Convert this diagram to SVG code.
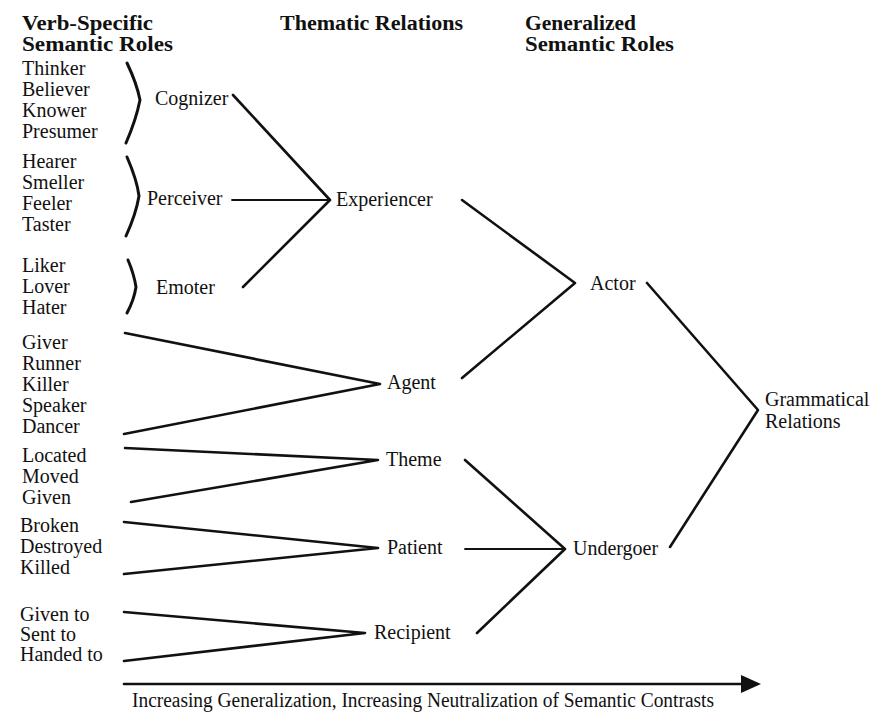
<svg xmlns="http://www.w3.org/2000/svg" width="875" height="713" viewBox="0 0 875 713">
<style>
text{font-family:"Liberation Serif","Times New Roman",serif;font-size:20px;fill:#111}
.h{font-weight:bold}
.c{fill:none;stroke:#111;stroke-width:2.6;stroke-linecap:round;stroke-linejoin:round}
.t{stroke-width:1.8}
.b{fill:none;stroke:#111;stroke-width:3;stroke-linecap:round;stroke-linejoin:round}
</style>
<defs>
<marker id="ah" markerWidth="20" markerHeight="18" refX="0" refY="9" orient="auto" markerUnits="userSpaceOnUse">
<path d="M0,0 L20,9 L0,18 Z" fill="#111"/>
</marker>
</defs>
<rect width="875" height="713" fill="#fff"/>

<g id="headers">
<text class="h" x="22" y="30" textLength="131" lengthAdjust="spacingAndGlyphs">Verb-Specific</text>
<text class="h" x="22" y="51" textLength="151" lengthAdjust="spacingAndGlyphs">Semantic  Roles</text>
<text class="h" x="280" y="30" textLength="183" lengthAdjust="spacingAndGlyphs">Thematic  Relations</text>
<text class="h" x="525" y="30" textLength="111" lengthAdjust="spacingAndGlyphs">Generalized</text>
<text class="h" x="525" y="51" textLength="149" lengthAdjust="spacingAndGlyphs">Semantic  Roles</text>
</g>

<g id="cognizer-roles">
<text x="22" y="75">Thinker</text>
<text x="22" y="96">Believer</text>
<text x="22" y="117">Knower</text>
<text x="22" y="138">Presumer</text>
<path class="b" d="M127,63 Q137,84 140,100 Q136,120 126,143"/>
</g>
<g id="perceiver-roles">
<text x="22" y="168">Hearer</text>
<text x="22" y="189">Smeller</text>
<text x="22" y="210">Feeler</text>
<text x="22" y="231">Taster</text>
<path class="b" d="M127,157 Q137,180 139,196 Q136,214 126,236"/>
</g>
<g id="emoter-roles">
<text x="22" y="272">Liker</text>
<text x="22" y="293">Lover</text>
<text x="22" y="314">Hater</text>
<path class="b" d="M128,260 Q134,274 136,287 Q134,300 127,313"/>
</g>
<g id="agent-roles">
<text x="22" y="349">Giver</text>
<text x="22" y="370">Runner</text>
<text x="22" y="391">Killer</text>
<text x="22" y="412">Speaker</text>
<text x="22" y="433">Dancer</text>
</g>
<g id="theme-roles">
<text x="22" y="462">Located</text>
<text x="22" y="483">Moved</text>
<text x="22" y="504">Given</text>
</g>
<g id="patient-roles">
<text x="20" y="532">Broken</text>
<text x="20" y="553">Destroyed</text>
<text x="20" y="574">Killed</text>
</g>
<g id="recipient-roles">
<text x="20" y="621">Given to</text>
<text x="20" y="641">Sent to</text>
<text x="20" y="661">Handed to</text>
</g>

<g id="cognizer"><text x="155" y="105">Cognizer</text></g>
<g id="perceiver"><text x="147" y="205">Perceiver</text></g>
<g id="emoter"><text x="156" y="294">Emoter</text></g>
<g id="experiencer"><text x="336" y="206">Experiencer</text></g>
<g id="agent"><text x="387" y="389">Agent</text></g>
<g id="theme"><text x="386" y="466">Theme</text></g>
<g id="patient"><text x="387" y="554">Patient</text></g>
<g id="recipient"><text x="374" y="639">Recipient</text></g>
<g id="actor"><text x="590" y="290">Actor</text></g>
<g id="undergoer"><text x="573" y="555">Undergoer</text></g>
<g id="grammatical-relations">
<text x="765" y="406">Grammatical</text>
<text x="765" y="428">Relations</text>
</g>

<g id="connectors">
<polyline class="c" points="233,95 330,200 243,287"/>
<line class="c t" x1="232" y1="200" x2="330" y2="200"/>
<polyline class="c" points="125,333 380,384 124,434"/>
<polyline class="c" points="125,448 378,460 131,502"/>
<polyline class="c" points="124,522 378,548 124,574"/>
<polyline class="c" points="124,612 365,633 124,661"/>
<polyline class="c" points="462,200 575,283 462,378"/>
<polyline class="c" points="465,460 565,549 477,633"/>
<line class="c t" x1="465" y1="549" x2="565" y2="549"/>
<polyline class="c" points="647,283 758,410 670,547"/>
<line class="c" x1="124" y1="684" x2="741" y2="684" stroke-width="3" stroke-linecap="butt" marker-end="url(#ah)"/>
</g>

<g id="axis-label">
<text x="132" y="707" textLength="582" lengthAdjust="spacingAndGlyphs">Increasing Generalization, Increasing Neutralization of Semantic Contrasts</text>
</g>
</svg>
